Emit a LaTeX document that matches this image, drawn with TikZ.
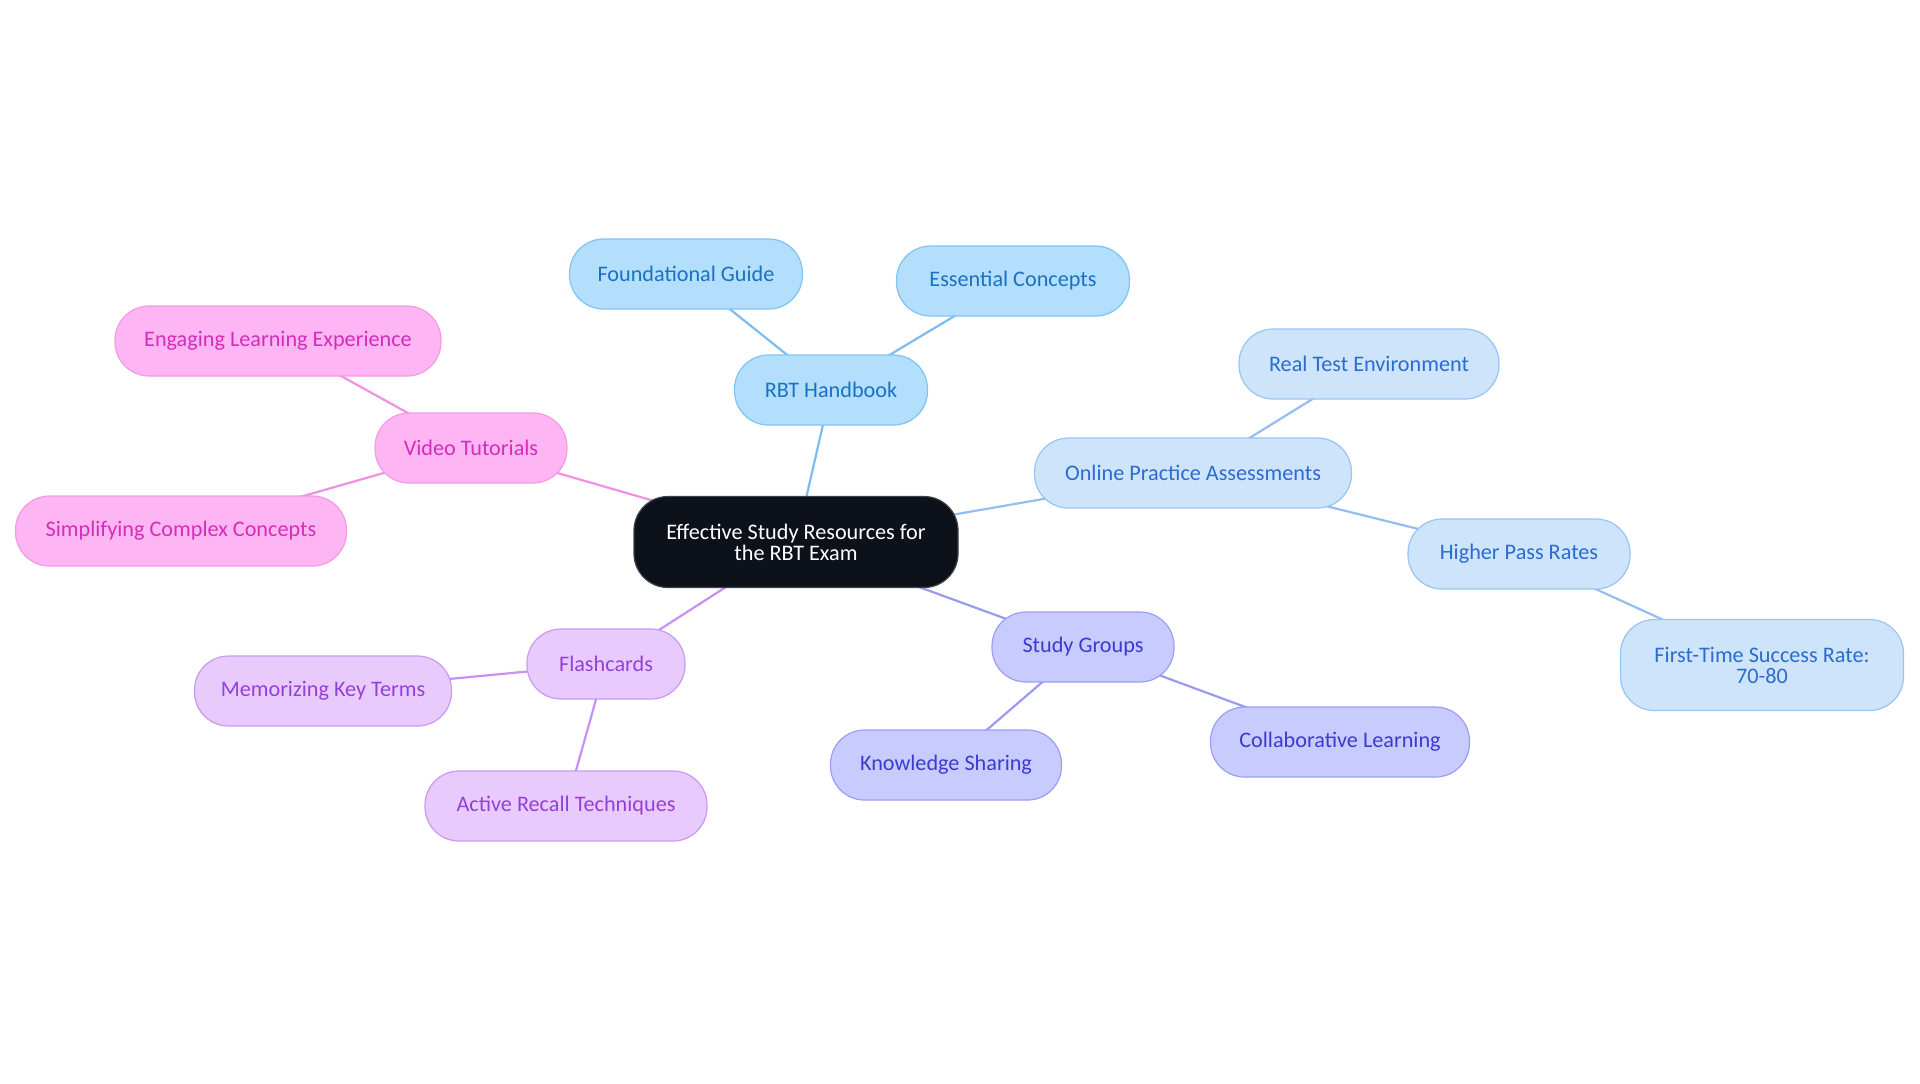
\documentclass[tikz,border=0pt]{standalone}
\usepackage{fontspec}
\setmainfont{Carlito}
\usetikzlibrary{backgrounds}
\definecolor{bF}{HTML}{B3DEFC}\definecolor{bD}{HTML}{7FC4F2}\definecolor{bT}{HTML}{1A72C4}\definecolor{bL}{HTML}{7CBDF0}
\definecolor{lF}{HTML}{CDE4FB}\definecolor{lD}{HTML}{98C5F2}\definecolor{lT}{HTML}{2C6BD0}\definecolor{lL}{HTML}{93BEEF}
\definecolor{iF}{HTML}{C8CBFD}\definecolor{iD}{HTML}{9A9EF5}\definecolor{iT}{HTML}{3B3BD0}\definecolor{iL}{HTML}{9A9AF2}
\definecolor{vF}{HTML}{E8CBFC}\definecolor{vD}{HTML}{C79AF0}\definecolor{vT}{HTML}{9340D8}\definecolor{vL}{HTML}{C890F0}
\definecolor{pF}{HTML}{FDB5F3}\definecolor{pD}{HTML}{F39BE3}\definecolor{pT}{HTML}{D42DBA}\definecolor{pL}{HTML}{F090E0}
\definecolor{rF}{HTML}{0D111A}
\tikzset{
  box/.style={rectangle, rounded corners=17pt, line width=0.6pt, minimum height=35pt, inner sep=2pt, align=center, font=\fontsize{11.1}{10.5}\selectfont},
  bbox/.style={box, fill=bF, draw=bD, text=bT},
  lbox/.style={box, fill=lF, draw=lD, text=lT},
  ibox/.style={box, fill=iF, draw=iD, text=iT},
  vbox/.style={box, fill=vF, draw=vD, text=vT},
  pbox/.style={box, fill=pF, draw=pD, text=pT},
  rootbox/.style={box, fill=rF, draw=rF!80!white, text=white, minimum height=45.5pt},
  edge/.style={line width=1.1pt},
}
\begin{document}
\begin{tikzpicture}[x=0.5pt,y=-0.5pt]
\useasboundingbox (0,0) rectangle (1920,1083);
\node[rootbox, minimum width=162pt] (root) at (796,542) {Effective Study Resources for\\the RBT Exam};
\node[bbox, minimum width=96.5pt] (rbt) at (831,390) {RBT Handbook};
\node[bbox, minimum width=116.5pt] (found) at (686,274) {Foundational Guide};
\node[bbox, minimum width=116.5pt] (ess) at (1013,281) {Essential Concepts};
\node[lbox, minimum width=158.5pt] (online) at (1193,473) {Online Practice Assessments};
\node[lbox, minimum width=130pt] (real) at (1369,364) {Real Test Environment};
\node[lbox, minimum width=111pt] (higher) at (1519,554) {Higher Pass Rates};
\node[lbox, minimum width=141.5pt, minimum height=45.5pt] (first) at (1762,665) {First-Time Success Rate:\\70-80};
\node[ibox, minimum width=91pt] (study) at (1083,647) {Study Groups};
\node[ibox, minimum width=115.5pt] (know) at (946,765) {Knowledge Sharing};
\node[ibox, minimum width=129.5pt] (collab) at (1340,742) {Collaborative Learning};
\node[vbox, minimum width=79pt] (flash) at (606,664) {Flashcards};
\node[vbox, minimum width=128.5pt] (memo) at (323,691) {Memorizing Key Terms};
\node[vbox, minimum width=141pt] (active) at (566,806) {Active Recall Techniques};
\node[pbox, minimum width=96pt] (video) at (471,448) {Video Tutorials};
\node[pbox, minimum width=163pt] (engage) at (278,341) {Engaging Learning Experience};
\node[pbox, minimum width=165.5pt] (simpl) at (181,531) {Simplifying Complex Concepts};
\begin{scope}[on background layer]
\draw[edge, bL] (root.center) -- (rbt.center);
\draw[edge, bL] (rbt.center) -- (found.center);
\draw[edge, bL] (rbt.center) -- (ess.center);
\draw[edge, lL] (root.center) -- (online.center);
\draw[edge, lL] (online.center) -- (real.center);
\draw[edge, lL] (online.center) -- (higher.center);
\draw[edge, lL] (higher.center) -- (first.center);
\draw[edge, iL] (root.center) -- (study.center);
\draw[edge, iL] (study.center) -- (know.center);
\draw[edge, iL] (study.center) -- (collab.center);
\draw[edge, vL] (root.center) -- (flash.center);
\draw[edge, vL] (flash.center) -- (memo.center);
\draw[edge, vL] (flash.center) -- (active.center);
\draw[edge, pL] (root.center) -- (video.center);
\draw[edge, pL] (video.center) -- (engage.center);
\draw[edge, pL] (video.center) -- (simpl.center);
\end{scope}
\end{tikzpicture}
\end{document}
